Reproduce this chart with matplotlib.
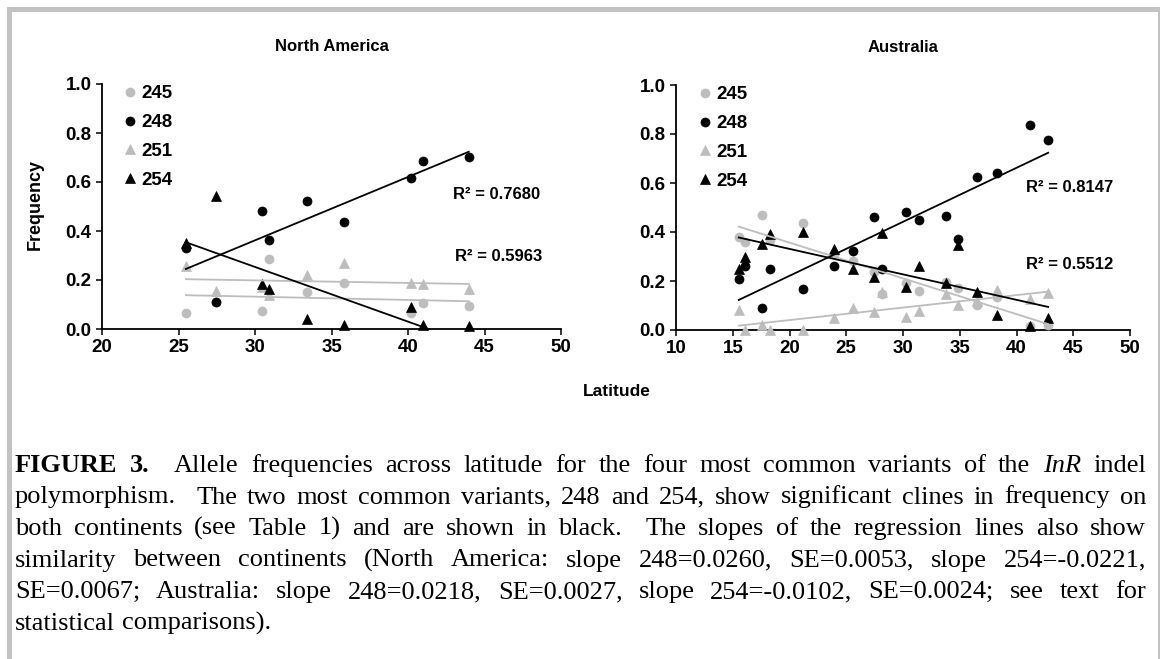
import re
import numpy as np
import matplotlib
matplotlib.use("Agg")
import matplotlib.pyplot as plt
from matplotlib.patches import Rectangle

# ---------------- data ----------------
alleles = ["245", "248", "251", "254"]

# North America: sampling latitudes and allele frequencies
na_lat = [25.48, 27.42, 30.48, 30.94, 33.38, 35.79, 40.22, 40.96, 43.97]
na_245 = [0.065, 0.110, 0.075, 0.286, 0.150, 0.186, 0.064, 0.106, 0.094]
na_248 = [0.330, 0.112, 0.483, 0.365, 0.524, 0.438, 0.616, 0.686, 0.703]
na_251 = [0.258, 0.154, 0.170, 0.140, 0.222, 0.269, 0.186, 0.184, 0.163]
na_254 = [0.351, 0.541, 0.184, 0.163, 0.041, 0.016, 0.091, 0.018, 0.012]
na_r2 = ["0.7680", "0.5963"]

# Australia: sampling latitudes and allele frequencies
au_lat = [15.53, 16.06, 17.59, 18.32, 21.21, 23.91, 25.62, 27.41, 28.15,
          30.29, 31.38, 33.82, 34.82, 36.56, 38.24, 41.18, 42.79]
au_245 = [0.379, 0.358, 0.471, 0.368, 0.436, 0.310, 0.280, 0.235, 0.147,
          0.190, 0.161, 0.196, 0.172, 0.104, 0.134, 0.015, 0.022]
au_248 = [0.208, 0.260, 0.089, 0.249, 0.168, 0.263, 0.322, 0.460, 0.249,
          0.481, 0.447, 0.465, 0.372, 0.625, 0.639, 0.837, 0.775]
au_251 = [0.082, 0.000, 0.022, 0.000, 0.000, 0.049, 0.090, 0.075, 0.155,
          0.054, 0.079, 0.147, 0.104, 0.120, 0.163, 0.127, 0.150]
au_254 = [0.249, 0.297, 0.351, 0.392, 0.399, 0.331, 0.249, 0.218, 0.396,
          0.177, 0.263, 0.191, 0.345, 0.157, 0.061, 0.018, 0.048]
au_r2 = ["0.8147", "0.5512"]

na_xticks = [20, 25, 30, 35, 40, 45, 50]
au_xticks = [10, 15, 20, 25, 30, 35, 40, 45, 50]
yticks = [0.0, 0.2, 0.4, 0.6, 0.8, 1.0]

caption_lines = [
    "FIGURE 3.  Allele frequencies across latitude for the four most common variants of the InR indel",
    "polymorphism.  The two most common variants, 248 and 254, show significant clines in frequency on",
    "both continents (see Table 1) and are shown in black.  The slopes of the regression lines also show",
    "similarity between continents (North America: slope 248=0.0260, SE=0.0053, slope 254=-0.0221,",
    "SE=0.0067; Australia: slope 248=0.0218, SE=0.0027, slope 254=-0.0102, SE=0.0024; see text for",
    "statistical comparisons).",
]

# ---------------- styling ----------------
GREY = "#bdbdbd"
BLACK = "#000000"
styles = {
    "245": dict(marker="o", color=GREY),
    "248": dict(marker="o", color=BLACK),
    "251": dict(marker="^", color=GREY),
    "254": dict(marker="^", color=BLACK),
}
SANS = "Liberation Sans"
SERIF = "Liberation Serif"
LABEL_SIZE = 13.5

W, H = 1162, 659
fig = plt.figure(figsize=(W / 100, H / 100), dpi=100)


def px_rect(x0, y_top, w, h):
    return [x0 / W, (H - y_top - h) / H, w / W, h / H]


def draw_panel(ax, lat, series, r2_labels, xticks, title, leg_anchor, r2_pos):
    lat = np.asarray(lat)
    for name, vals in zip(alleles, series):
        st = styles[name]
        ax.plot(lat, vals, ls="none", marker=st["marker"], ms=6.5,
                mfc=st["color"], mec=st["color"], mew=0.5,
                clip_on=False, zorder=3, label=name)
    for name, vals in zip(alleles, series):
        coef = np.polyfit(lat, vals, 1)
        xx = np.array([lat.min(), lat.max()])
        ax.plot(xx, np.polyval(coef, xx), color=styles[name]["color"],
                lw=1.3, zorder=4)

    ax.set_xlim(xticks[0], xticks[-1])
    ax.set_ylim(0, 1.0)
    ax.set_xticks(xticks)
    ax.set_yticks(yticks)
    ax.set_xticklabels([str(t) for t in xticks])
    ax.set_yticklabels([f"{t:.1f}" for t in yticks])
    for s in ("top", "right"):
        ax.spines[s].set_visible(False)
    for s in ("left", "bottom"):
        ax.spines[s].set_linewidth(1.3)
    ax.tick_params(direction="out", length=4.5, width=1.1, pad=3,
                   labelsize=LABEL_SIZE)
    for lab in ax.get_xticklabels() + ax.get_yticklabels():
        lab.set_fontfamily(SANS)
        lab.set_fontweight("bold")

    ax.set_title(title, fontsize=12, fontweight="bold", family=SANS, pad=24)

    ax.legend(loc="upper left", bbox_to_anchor=leg_anchor, frameon=False,
              handlelength=0.6, handletextpad=0.3, labelspacing=0.62,
              borderaxespad=0, borderpad=0,
              prop=dict(family=SANS, weight="bold", size=LABEL_SIZE))
    for (x, y), txt in zip(r2_pos, r2_labels):
        ax.text(x, y, f"R² = {txt}", transform=ax.transAxes, ha="left",
                va="center", fontsize=12, fontweight="bold", family=SANS)


ax_na = fig.add_axes(px_rect(102, 84, 459, 245))
ax_au = fig.add_axes(px_rect(676, 85, 454, 245))

draw_panel(ax_na, na_lat, [na_245, na_248, na_251, na_254], na_r2, na_xticks,
           "North America", (0.049, 0.995), [(0.764, 0.547), (0.769, 0.297)])
draw_panel(ax_au, au_lat, [au_245, au_248, au_251, au_254], au_r2, au_xticks,
           "Australia", (0.051, 0.995), [(0.770, 0.583), (0.770, 0.268)])

fig.text(35 / W, 1 - 205 / H, "Frequency", rotation=90, ha="center",
         va="center", fontsize=13, fontweight="bold", family=SANS)
fig.text(617 / W, 1 - 391 / H, "Latitude", ha="center", va="center",
         fontsize=12.5, fontweight="bold", family=SANS)

# ---------------- frame around the figure ----------------
frame_col = "#c3c3c3"
for (x0, y0, w, h) in [(7, 7, 1153, 4.5), (7, 7, 4.5, 652), (1158, 7, 2, 652)]:
    fig.patches.append(Rectangle((x0 / W, 1 - (y0 + h) / H), w / W, h / H,
                                 transform=fig.transFigure, color=frame_col,
                                 lw=0, zorder=0))

# ---------------- justified caption ----------------
CAP_SIZE = 19
base_style = dict(family=SERIF, size=CAP_SIZE)
special = {"FIGURE": dict(weight="bold"), "3.": dict(weight="bold"),
           "InR": dict(style="italic")}
renderer = fig.canvas.get_renderer()


def measure(txt, style):
    t = fig.text(0, 0, txt, **style)
    w = t.get_window_extent(renderer).width
    t.remove()
    return w


space_w = measure("a a", base_style) - measure("aa", base_style)
left_px, right_px = 15, 1146
baselines = [472, 503.5, 535, 566.5, 598, 629.5]

for li, (line, base_y) in enumerate(zip(caption_lines, baselines)):
    parts = re.split(r"( +)", line)
    words = parts[0::2]
    gaps = [len(g) for g in parts[1::2]]
    wstyles = []
    for i, wd in enumerate(words):
        st = dict(base_style)
        if li == 0 and i < 2:
            st.update(special.get(wd, {}))
        elif wd == "InR":
            st.update(special["InR"])
        wstyles.append(st)
    widths = [measure(wd, st) for wd, st in zip(words, wstyles)]
    last = li == len(caption_lines) - 1
    if last or not gaps:
        unit = space_w
    else:
        unit = (right_px - left_px - sum(widths)) / sum(gaps)
    x = left_px
    for i, (wd, st, wdt) in enumerate(zip(words, wstyles, widths)):
        fig.text(x / W, 1 - base_y / H, wd, ha="left", va="baseline", **st)
        x += wdt
        if i < len(gaps):
            x += gaps[i] * unit

fig.savefig("out.png", dpi=100)
